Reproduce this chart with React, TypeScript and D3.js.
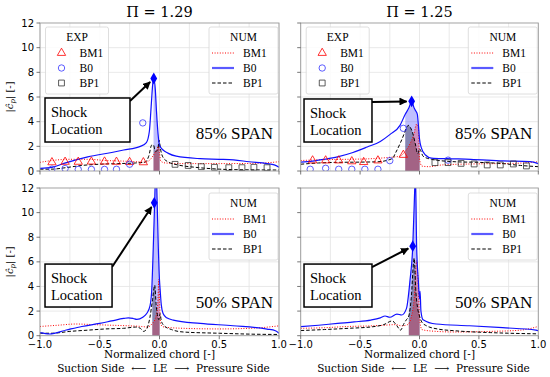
import React, { useEffect, useRef } from 'react';
import * as d3 from 'd3';

type Pt = [number, number];

// ---- labels / ticks ----
const titles = ['Π = 1.29', 'Π = 1.25'];
const spanLabels = ['85% SPAN', '50% SPAN'];
const seriesNames = ['BM1', 'B0', 'BP1'];
const xTicks = [-1, -0.5, 0, 0.5, 1];
const xGrid = [-1, -0.75, -0.5, -0.25, 0, 0.25, 0.5, 0.75, 1];
const yTicks = [0, 2, 4, 6, 8, 10, 12];

// ---- Π = 1.29, 85% span ----
const tlBM1: Pt[] = [[-1, 0.7], [-0.9, 0.85], [-0.75, 0.95], [-0.6, 0.95], [-0.45, 0.85], [-0.3, 0.8], [-0.2, 0.75], [-0.12, 0.72], [-0.08, 0.9], [-0.05, 1.3], [-0.025, 1.7], [-0.008, 2.0], [0, 1.5], [0.01, 0.8], [0.05, 0.65], [0.2, 0.6], [0.5, 0.6], [0.8, 0.62], [1, 0.75]];
const tlB0: Pt[] = [[-1, 0.22], [-0.9, 0.3], [-0.8, 0.62], [-0.6, 1.15], [-0.4, 1.5], [-0.3, 1.7], [-0.16, 2.0], [-0.11, 2.3], [-0.085, 3.2], [-0.07, 5.2], [-0.055, 7.2], [-0.048, 7.5], [-0.035, 6.6], [-0.025, 4.8], [-0.012, 3.0], [0, 2.1], [0.03, 1.7], [0.07, 1.45], [0.14, 1.2], [0.34, 1.0], [0.5, 0.95], [0.62, 0.9], [0.75, 0.75], [0.9, 0.6], [0.96, 0.5], [1, 0.3]];
const tlBP1: Pt[] = [[-1, 0.15], [-0.9, 0.15], [-0.8, 0.25], [-0.65, 0.45], [-0.5, 0.55], [-0.35, 0.6], [-0.2, 0.65], [-0.12, 0.72], [-0.09, 1.2], [-0.065, 2.1], [-0.05, 2.1], [-0.035, 1.6], [-0.015, 1.7], [-0.003, 2.5], [0.008, 1.8], [0.03, 1.1], [0.08, 0.7], [0.15, 0.5], [0.3, 0.3], [0.5, 0.15], [0.7, 0.1], [1, 0.08]];
const tlExpBM1: Pt[] = [[-0.9, 0.7], [-0.79, 0.74], [-0.68, 0.74], [-0.57, 0.76], [-0.46, 0.76], [-0.36, 0.74], [-0.25, 0.72], [-0.135, 0.7]];
const tlExpB0: Pt[] = [[-0.9, 0.15], [-0.79, 0.2], [-0.68, 0.13], [-0.57, 0.13], [-0.46, 0.13], [-0.36, 0.14], [-0.25, 0.55], [-0.14, 3.9]];
const tlExpBP1: Pt[] = [[0.13, 0.54], [0.24, 0.45], [0.35, 0.35], [0.46, 0.3], [0.58, 0.27], [0.69, 0.27], [0.79, 0.3], [0.9, 0.27]];
const tlShock: Pt = [-0.048, 7.5];

// ---- Π = 1.25, 85% span ----
const trBM1: Pt[] = [[-1, 0.85], [-0.8, 0.92], [-0.6, 0.95], [-0.4, 1.0], [-0.26, 1.1], [-0.164, 1.2], [-0.12, 1.6], [-0.08, 2.2], [-0.05, 2.9], [-0.024, 3.8], [-0.01, 3.6], [0, 1.0], [0.02, 0.4], [0.08, 0.35], [0.2, 0.5], [0.5, 0.58], [0.8, 0.62], [1, 0.75]];
const trB0: Pt[] = [[-1, 0.72], [-0.9, 0.8], [-0.8, 0.95], [-0.69, 1.15], [-0.56, 1.5], [-0.44, 1.95], [-0.33, 2.4], [-0.25, 2.95], [-0.164, 3.7], [-0.12, 4.6], [-0.09, 5.1], [-0.066, 5.65], [-0.045, 5.1], [-0.03, 4.85], [-0.018, 4.6], [-0.01, 3.8], [0, 2.6], [0.015, 1.9], [0.05, 1.3], [0.1, 1.05], [0.23, 1.0], [0.43, 0.95], [0.7, 0.82], [0.93, 0.76], [1, 0.6]];
const trBP1: Pt[] = [[-1, 0.55], [-0.85, 0.65], [-0.7, 0.7], [-0.5, 0.72], [-0.35, 0.75], [-0.23, 1.0], [-0.2, 1.5], [-0.16, 2.3], [-0.13, 3.0], [-0.11, 3.5], [-0.094, 3.7], [-0.075, 3.5], [-0.055, 3.0], [-0.035, 2.2], [-0.015, 1.4], [0, 1.8], [0.008, 1.7], [0.03, 1.2], [0.1, 0.95], [0.3, 0.75], [0.5, 0.7], [0.7, 0.6], [0.85, 0.45], [1, 0.35]];
const trExpBM1: Pt[] = [[-0.9, 0.85], [-0.79, 0.85], [-0.68, 0.85], [-0.57, 0.78], [-0.47, 0.72], [-0.35, 0.85], [-0.136, 1.3]];
const trExpB0: Pt[] = [[-0.92, 0.14], [-0.79, 0.22], [-0.68, 0.14], [-0.57, 0.14], [-0.46, 0.14], [-0.35, 0.14], [-0.25, 0.84], [-0.136, 3.46], [0.24, 0.88]];
const trExpBP1: Pt[] = [[0.13, 0.68], [0.24, 0.68], [0.35, 0.62], [0.46, 0.57], [0.57, 0.49], [0.68, 0.49], [0.79, 0.57], [0.9, 0.41]];
const trShock: Pt = [-0.066, 5.65];

// ---- Π = 1.29, 50% span ----
const blBM1: Pt[] = [[-1, 0.75], [-0.85, 0.85], [-0.7, 0.95], [-0.55, 0.9], [-0.4, 0.85], [-0.25, 0.8], [-0.15, 0.75], [-0.1, 0.7], [-0.06, 1.0], [-0.035, 1.4], [-0.015, 2.5], [-0.005, 4.6], [0, 3.0], [0.01, 0.9], [0.04, 0.7], [0.2, 0.6], [0.5, 0.55], [0.8, 0.62], [1, 0.8]];
const blB0: Pt[] = [[-1, 0.25], [-0.92, 0.14], [-0.78, 0.46], [-0.65, 0.75], [-0.5, 1.0], [-0.4, 1.2], [-0.3, 1.4], [-0.26, 1.45], [-0.22, 1.4], [-0.19, 1.33], [-0.14, 1.5], [-0.107, 1.8], [-0.08, 2.4], [-0.065, 3.7], [-0.052, 7.2], [-0.04, 11], [-0.03, 14], [-0.02, 11], [-0.01, 7.2], [0, 4.5], [0.005, 3.8], [0.015, 2.5], [0.03, 1.8], [0.06, 1.45], [0.115, 1.27], [0.34, 1.0], [0.615, 0.81], [0.9, 0.54], [0.97, 0.4], [1, 0.2]];
const blBP1: Pt[] = [[-1, 0.2], [-0.9, 0.2], [-0.75, 0.35], [-0.6, 0.45], [-0.45, 0.55], [-0.3, 0.6], [-0.2, 0.7], [-0.16, 0.6], [-0.135, 0.35], [-0.11, 0.5], [-0.08, 1.5], [-0.06, 2.8], [-0.04, 4.1], [-0.028, 2.5], [-0.015, 1.6], [-0.005, 1.3], [0.005, 1.8], [0.015, 1.2], [0.04, 0.8], [0.1, 0.5], [0.2, 0.3], [0.5, 0.2], [0.8, 0.12], [1, 0.1]];
const blShock: Pt = [-0.044, 10.8];

// ---- Π = 1.25, 50% span ----
const brBM1: Pt[] = [[-1, 0.6], [-0.8, 0.65], [-0.6, 0.75], [-0.4, 0.8], [-0.3, 0.85], [-0.2, 0.9], [-0.15, 0.8], [-0.1, 0.9], [-0.07, 1.5], [-0.045, 3.0], [-0.024, 6.1], [-0.01, 4.0], [0, 1.5], [0.02, 0.5], [0.1, 0.38], [0.3, 0.3], [0.6, 0.35], [0.85, 0.45], [1, 0.75]];
const brB0: Pt[] = [[-1, 0.73], [-0.85, 0.85], [-0.69, 1.0], [-0.55, 1.12], [-0.41, 1.27], [-0.33, 1.45], [-0.29, 1.6], [-0.25, 1.5], [-0.19, 1.76], [-0.15, 1.68], [-0.11, 2.2], [-0.08, 4.5], [-0.057, 7.2], [-0.04, 12], [-0.035, 13.5], [-0.024, 7.2], [-0.01, 4.5], [0, 3.0], [0.005, 3.6], [0.012, 2.0], [0.03, 1.3], [0.14, 0.95], [0.42, 0.81], [0.7, 0.65], [0.98, 0.46], [1, 0.4]];
const brBP1: Pt[] = [[-1, 0.42], [-0.8, 0.5], [-0.6, 0.6], [-0.4, 0.72], [-0.3, 0.9], [-0.23, 1.2], [-0.19, 0.8], [-0.16, 0.45], [-0.13, 1.0], [-0.11, 1.3], [-0.09, 1.6], [-0.07, 3.0], [-0.045, 6.3], [-0.03, 3.5], [-0.015, 2.2], [0, 1.6], [0.02, 1.1], [0.06, 0.8], [0.15, 0.55], [0.3, 0.4], [0.6, 0.25], [1, 0.15]];
const brShock: Pt = [-0.057, 7.27];

const panels = [
  { col: 0, row: 0, num: [tlBM1, tlB0, tlBP1], exp: [tlExpBM1, tlExpB0, tlExpBP1], shock: tlShock, shadeFrom: -0.05, box: [-0.958, 5.92, -0.247, 2.35] },
  { col: 1, row: 0, num: [trBM1, trB0, trBP1], exp: [trExpBM1, trExpB0, trExpBP1], shock: trShock, shadeFrom: -0.12, box: [-0.972, 5.84, -0.4, 2.35] },
  { col: 0, row: 1, num: [blBM1, blB0, blBP1], exp: null, shock: blShock, shadeFrom: -0.06, box: [-0.958, 5.82, -0.397, 2.33] },
  { col: 1, row: 1, num: [brBM1, brB0, brBP1], exp: null, shock: brShock, shadeFrom: -0.09, box: [-0.972, 5.82, -0.4, 2.33] },
];

const colX = [[40, 279], [300.7, 538.3]];
const rowY = [[23, 171], [188, 335.7]];

const lineStyle = [
  { color: 'red', width: 1, dash: '1,1.6', fill: 'red', fillOp: 0.25 },
  { color: '#1010ff', width: 1.2, dash: null, fill: '#0000ff', fillOp: 0.25 },
  { color: '#000', width: 1, dash: '3.5,2', fill: '#000', fillOp: 0.3 },
];

const serif = "'Liberation Serif', 'Times New Roman', serif";
const dvSerif = "'DejaVu Serif', serif";
const sans = "'DejaVu Sans', sans-serif";

export default function App() {
  const svgRef = useRef<SVGSVGElement>(null);

  useEffect(() => {
    const svg = d3.select(svgRef.current);
    svg.selectAll('*').remove();
    const defs = svg.append('defs');

    defs.append('marker')
      .attr('id', 'arrowhead')
      .attr('viewBox', '0 0 10 10')
      .attr('refX', 9)
      .attr('refY', 5)
      .attr('markerWidth', 4)
      .attr('markerHeight', 4)
      .attr('orient', 'auto')
      .append('path')
      .attr('d', 'M0,0 L10,5 L0,10 z')
      .attr('fill', '#000');

    const triSym = d3.symbol().type(d3.symbolTriangle).size(30);
    const sqSym = d3.symbol().type(d3.symbolSquare).size(34);

    panels.forEach((p, i) => {
      const [x0, x1] = colX[p.col];
      const [y0, y1] = rowY[p.row];
      const x = d3.scaleLinear().domain([-1, 1]).range([x0, x1]);
      const y = d3.scaleLinear().domain([0, 12]).range([y1, y0]);
      const g = svg.append('g');

      defs.append('clipPath').attr('id', `plot-${i}`)
        .append('rect').attr('x', x0).attr('y', y0).attr('width', x1 - x0).attr('height', y1 - y0);
      defs.append('clipPath').attr('id', `shade-${i}`)
        .append('rect').attr('x', x(p.shadeFrom)).attr('y', y0)
        .attr('width', x(0) - x(p.shadeFrom)).attr('height', y1 - y0);

      // grid
      g.append('g').selectAll('line').data(xGrid).join('line')
        .attr('x1', d => x(d)).attr('x2', d => x(d)).attr('y1', y0).attr('y2', y1)
        .attr('stroke', '#e3e3e3').attr('stroke-width', 0.8);
      g.append('g').selectAll('line').data(yTicks.slice(1, -1)).join('line')
        .attr('x1', x0).attr('x2', x1).attr('y1', d => y(d)).attr('y2', d => y(d))
        .attr('stroke', '#e3e3e3').attr('stroke-width', 0.8);

      // shaded shock regions
      const area = d3.area<Pt>().x(d => x(d[0])).y0(y(0)).y1(d => y(d[1])).curve(d3.curveMonotoneX);
      const shadeG = g.append('g').attr('clip-path', `url(#shade-${i})`);
      [1, 2, 0].forEach(k => {
        shadeG.append('path').datum(p.num[k]).attr('d', area)
          .attr('fill', lineStyle[k].fill).attr('fill-opacity', lineStyle[k].fillOp);
      });

      // lines
      const line = d3.line<Pt>().x(d => x(d[0])).y(d => y(d[1])).curve(d3.curveMonotoneX);
      const lineG = g.append('g').attr('clip-path', `url(#plot-${i})`);
      [0, 2, 1].forEach(k => {
        lineG.append('path').datum(p.num[k]).attr('d', line)
          .attr('fill', 'none')
          .attr('stroke', lineStyle[k].color)
          .attr('stroke-width', lineStyle[k].width)
          .attr('stroke-dasharray', lineStyle[k].dash);
      });

      // experimental markers
      if (p.exp) {
        lineG.selectAll('.tri').data(p.exp[0]).join('path')
          .attr('d', triSym).attr('transform', d => `translate(${x(d[0])},${y(d[1])})`)
          .attr('fill', 'none').attr('stroke', 'red').attr('stroke-width', 0.8);
        lineG.selectAll('.circ').data(p.exp[1]).join('circle')
          .attr('cx', d => x(d[0])).attr('cy', d => y(d[1])).attr('r', 3.2)
          .attr('fill', 'none').attr('stroke', '#3333ff').attr('stroke-width', 0.8);
        lineG.selectAll('.sq').data(p.exp[2]).join('path')
          .attr('d', sqSym).attr('transform', d => `translate(${x(d[0])},${y(d[1])})`)
          .attr('fill', 'none').attr('stroke', '#333').attr('stroke-width', 0.8);
      }

      // frame
      g.append('rect').attr('x', x0).attr('y', y0).attr('width', x1 - x0).attr('height', y1 - y0)
        .attr('fill', 'none').attr('stroke', '#999').attr('stroke-width', 0.9);

      // ticks
      g.append('g').selectAll('line').data(yTicks).join('line')
        .attr('x1', x0 - 3.5).attr('x2', x0).attr('y1', d => y(d)).attr('y2', d => y(d))
        .attr('stroke', '#555').attr('stroke-width', 0.8);
      g.append('g').selectAll('line').data(xTicks).join('line')
        .attr('x1', d => x(d)).attr('x2', d => x(d)).attr('y1', y1).attr('y2', y1 + 3.5)
        .attr('stroke', '#555').attr('stroke-width', 0.8);
      if (p.col === 0) {
        g.append('g').selectAll('text').data(yTicks).join('text')
          .attr('x', x0 - 6).attr('y', d => y(d)).attr('dy', '0.36em')
          .attr('text-anchor', 'end').style('font-family', sans).style('font-size', '10px')
          .text(d => String(d));
        const cy = (y0 + y1) / 2;
        const yl = g.append('text').attr('transform', `translate(13,${cy}) rotate(-90)`)
          .attr('text-anchor', 'middle').style('font-family', dvSerif).style('font-size', '10px');
        yl.append('tspan').text('|');
        yl.append('tspan').style('font-style', 'italic').text('ĉ');
        yl.append('tspan').style('font-style', 'italic').style('font-size', '7px').attr('dy', 2).text('p');
        yl.append('tspan').attr('dy', -2).text('| [-]');
      }
      if (p.row === 1) {
        g.append('g').selectAll('text').data(xTicks).join('text')
          .attr('x', d => x(d)).attr('y', y1 + 12)
          .attr('text-anchor', 'middle').style('font-family', sans).style('font-size', '10px')
          .text(d => d3.format('.1f')(d));
        g.append('text').attr('x', (x0 + x1) / 2).attr('y', y1 + 22.5)
          .attr('text-anchor', 'middle').style('font-family', dvSerif).style('font-size', '10.5px')
          .text('Normalized chord [-]');
        g.append('text').attr('x', (x0 + x1) / 2 + 4).attr('y', y1 + 36)
          .attr('text-anchor', 'middle').style('font-family', dvSerif).style('font-size', '10.5px')
          .text('Suction Side \u00a0⟵\u00a0 LE \u00a0⟶\u00a0 Pressure Side');
      } else {
        g.append('text').attr('x', (x0 + x1) / 2).attr('y', y0 - 6)
          .attr('text-anchor', 'middle').style('font-family', dvSerif).style('font-size', '14.5px')
          .text(titles[p.col]);
      }

      // span label
      g.append('text').attr('x', x1 - 6).attr('y', y1 - (p.row === 0 ? 32 : 28))
        .attr('text-anchor', 'end').style('font-family', serif).style('font-size', '17px')
        .text(spanLabels[p.row]);

      // EXP legend
      if (p.exp) {
        const lg = g.append('g').attr('transform', `translate(${x0 + 5.5},${y0 + 4})`);
        lg.append('rect').attr('width', 63).attr('height', 67).attr('rx', 2)
          .attr('fill', '#fff').attr('fill-opacity', 0.85).attr('stroke', '#d5d5d5').attr('stroke-width', 0.8);
        lg.append('text').attr('x', 31.5).attr('y', 14).attr('text-anchor', 'middle')
          .style('font-family', serif).style('font-size', '11.5px').text('EXP');
        seriesNames.forEach((name, k) => {
          const cy = 26 + k * 15;
          if (k === 0) {
            lg.append('path').attr('d', triSym())
              .attr('transform', `translate(16,${cy})`).attr('fill', 'none').attr('stroke', 'red').attr('stroke-width', 0.8);
          } else if (k === 1) {
            lg.append('circle').attr('cx', 16).attr('cy', cy).attr('r', 3.2)
              .attr('fill', 'none').attr('stroke', '#3333ff').attr('stroke-width', 0.8);
          } else {
            lg.append('path').attr('d', sqSym())
              .attr('transform', `translate(16,${cy})`).attr('fill', 'none').attr('stroke', '#333').attr('stroke-width', 0.8);
          }
          lg.append('text').attr('x', 34).attr('y', cy + 4)
            .style('font-family', serif).style('font-size', '11.5px').text(name);
        });
      }

      // NUM legend
      const ng = g.append('g').attr('transform', `translate(${x1 - 70},${y0 + (p.row === 0 ? 4 : 5)})`);
      ng.append('rect').attr('width', 69).attr('height', 67).attr('rx', 2)
        .attr('fill', '#fff').attr('fill-opacity', 0.85).attr('stroke', '#d5d5d5').attr('stroke-width', 0.8);
      ng.append('text').attr('x', 34.5).attr('y', 14).attr('text-anchor', 'middle')
        .style('font-family', serif).style('font-size', '11.5px').text('NUM');
      seriesNames.forEach((name, k) => {
        const cy = 26 + k * 15;
        ng.append('line').attr('x1', 3).attr('x2', 25).attr('y1', cy).attr('y2', cy)
          .attr('stroke', k === 1 ? '#5a5aff' : lineStyle[k].color)
          .attr('stroke-width', k === 1 ? 2.2 : 1)
          .attr('stroke-dasharray', lineStyle[k].dash);
        ng.append('text').attr('x', 34).attr('y', cy + 4)
          .style('font-family', serif).style('font-size', '11.5px').text(name);
      });

      // shock annotation
      const [bx0, by0, bx1, by1] = p.box;
      const rx0 = x(bx0), ry0 = y(by0), rx1 = x(bx1), ry1 = y(by1);
      const sx = x(p.shock[0]), sy = y(p.shock[1]);
      const ax = rx1, ay = ry0 + 3;
      const dx = sx - ax, dy = sy - ay, len = Math.hypot(dx, dy);
      g.append('line').attr('x1', ax).attr('y1', ay)
        .attr('x2', sx - (dx / len) * 5).attr('y2', sy - (dy / len) * 5)
        .attr('stroke', '#000').attr('stroke-width', 2).attr('marker-end', 'url(#arrowhead)');
      g.append('rect').attr('x', rx0).attr('y', ry0).attr('width', rx1 - rx0).attr('height', ry1 - ry0)
        .attr('fill', '#fff').attr('stroke', '#000').attr('stroke-width', 1.5);
      g.append('text').attr('x', rx0 + 6).attr('y', ry0 + 19)
        .style('font-family', serif).style('font-size', '14.5px').text('Shock');
      g.append('text').attr('x', rx0 + 6).attr('y', ry0 + 36)
        .style('font-family', serif).style('font-size', '14.5px').text('Location');
      g.append('path').attr('d', d3.symbol().type(d3.symbolDiamond).size(40)())
        .attr('transform', `translate(${sx},${sy})`).attr('fill', '#0000ff');
    });
  }, []);

  return (
    <div style={{ position: 'absolute', left: 0, top: 0 }}>
      <svg ref={svgRef} width={550} height={377} style={{ display: 'block', background: '#fff' }} />
    </div>
  );
}
